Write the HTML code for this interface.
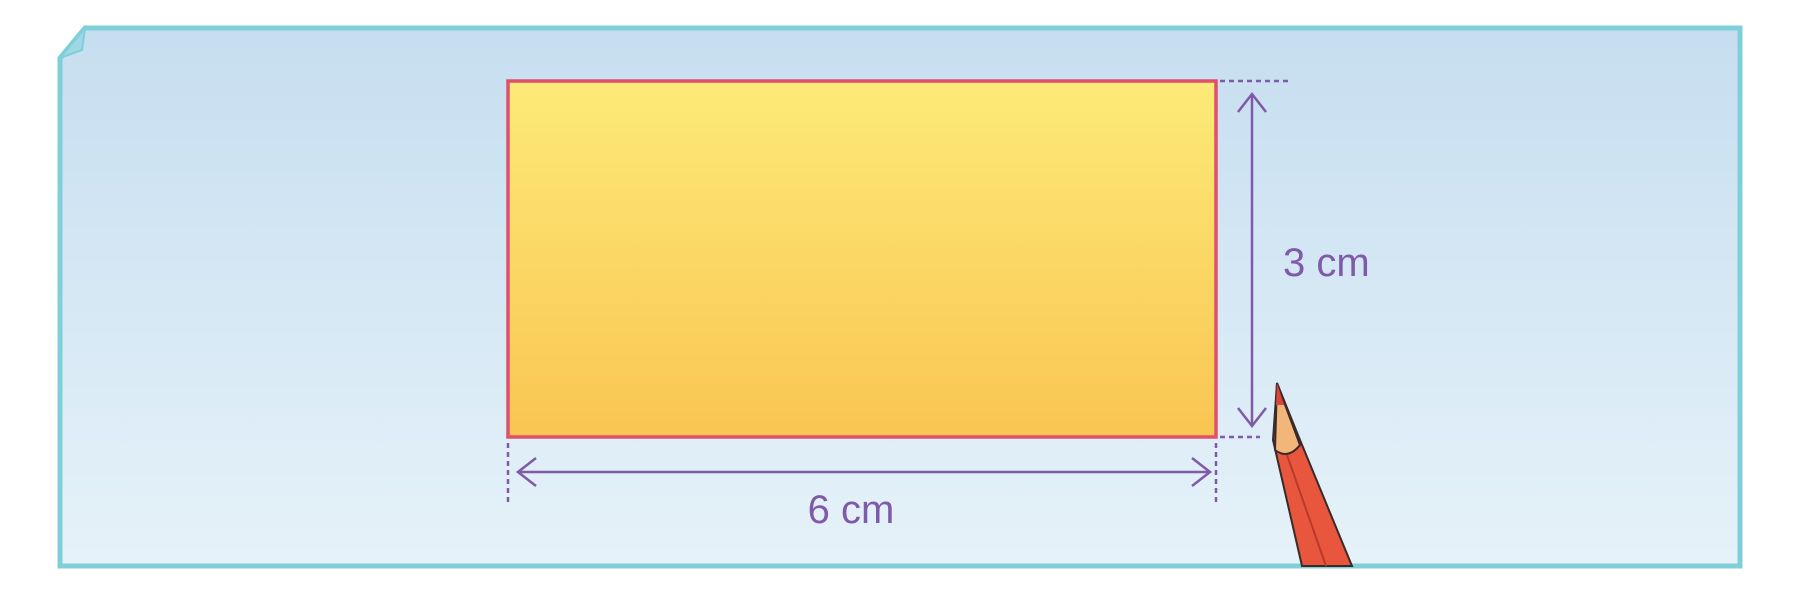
<!DOCTYPE html>
<html><head><meta charset="utf-8"><style>
html,body{margin:0;padding:0;background:#fff}
svg{display:block}
</style></head><body>
<svg width="1804" height="598" viewBox="0 0 1804 598">
<defs>
<linearGradient id="yg" x1="0" y1="0" x2="0" y2="1"><stop offset="0" stop-color="#fdea78"/><stop offset="1" stop-color="#f9c552"/></linearGradient>
<linearGradient id="pg" x1="0" y1="0" x2="0" y2="1"><stop offset="0" stop-color="#c6def0"/><stop offset="1" stop-color="#e6f2f9"/></linearGradient>
</defs>
<g>
<path d="M85,28 L1740,28 L1740,566 L60,566 L60,58 Z" fill="url(#pg)" stroke="#7fcfd9" stroke-width="5"/>
<path d="M60,58 L85,28 L82,50 Z" fill="#9fd8e4" stroke="#7fcfd9" stroke-width="2"/>
</g>
<rect x="508" y="81" width="708" height="356" fill="url(#yg)" stroke="#e0506a" stroke-width="3.5"/>
<g stroke="#7e5aa8" stroke-width="2.5" fill="none">
<line x1="1220" y1="81" x2="1289" y2="81" stroke-dasharray="5,4"/>
<line x1="1220" y1="437" x2="1260" y2="437" stroke-dasharray="5,4"/>
<line x1="1252" y1="94" x2="1252" y2="426"/>
<polyline points="1238,112 1252,94 1266,112"/>
<polyline points="1238,408 1252,426 1266,408"/>
<line x1="508" y1="443" x2="508" y2="506" stroke-dasharray="5,4"/>
<line x1="1216" y1="443" x2="1216" y2="506" stroke-dasharray="5,4"/>
<line x1="518" y1="472" x2="1210" y2="472"/>
<polyline points="536,458 518,472 536,486"/>
<polyline points="1192,458 1210,472 1192,486"/>
</g>
<text x="1283" y="276" font-family="Liberation Sans, sans-serif" font-size="40" fill="#7e5aa8">3 cm</text>
<text x="851" y="523" text-anchor="middle" font-family="Liberation Sans, sans-serif" font-size="40" fill="#7e5aa8">6 cm</text>
<g>
<path d="M1277,383 L1300,440 L1352,566 L1302,566 L1273,440 Z" fill="#e8563e" stroke="#3a2a2a" stroke-width="2"/>
<path d="M1277,383 L1300,445 Q1288,460 1275,450 Z" fill="#f2b67a" stroke="#3a2a2a" stroke-width="2"/>
<path d="M1277,383 L1284,405 L1276,405 Z" fill="#d9453a"/>
<line x1="1287" y1="455" x2="1326" y2="566" stroke="#b83a2a" stroke-width="2"/>
</g>
</svg>
</body></html>
